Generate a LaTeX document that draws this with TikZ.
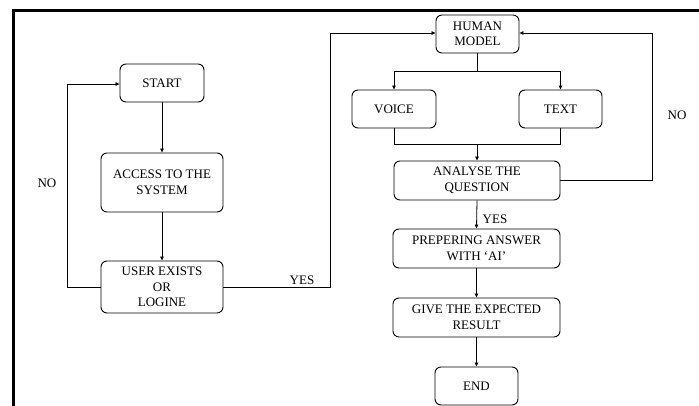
\documentclass[tikz,border=0pt]{standalone}
\usepackage{fontspec}
\setmainfont{Liberation Serif}
\usetikzlibrary{arrows.meta}
\begin{document}
\begin{tikzpicture}[x=1pt,y=-1pt,
  box/.style={draw,line width=0.9pt,rounded corners=6pt,align=center,inner sep=0pt,
    font=\fontsize{13}{15.5}\selectfont},
  conn/.style={line width=0.8pt},
  arr/.style={conn,-{Triangle[length=4pt,width=3.5pt]}},
  lbl/.style={font=\fontsize{13}{15.5}\selectfont,inner sep=0pt},
  frame/.style={line width=3pt}]
\useasboundingbox (0,0) rectangle (699,406);
\draw[frame] (13.5,406) -- (13.5,10.5) -- (699,10.5);
% left column
\node[box,minimum width=84pt,minimum height=38pt] (start) at (162,83) {START};
\node[box,minimum width=122pt,minimum height=59pt] (access) at (162,182.5) {ACCESS TO THE\\SYSTEM};
\node[box,minimum width=122pt,minimum height=52pt] (user) at (162,287) {USER EXISTS\\OR\\LOGINE};
% right column
\node[box,minimum width=83pt,minimum height=38pt] (human) at (477.5,34) {HUMAN\\MODEL};
\node[box,minimum width=84pt,minimum height=38pt] (voice) at (394,109) {VOICE};
\node[box,minimum width=83pt,minimum height=38pt] (text) at (560.5,109) {TEXT};
\node[box,minimum width=166pt,minimum height=39pt] (analyse) at (477,180.5) {ANALYSE THE\\QUESTION};
\node[box,minimum width=167pt,minimum height=39pt] (prep) at (476.5,248.5) {PREPERING ANSWER\\WITH ‘AI’};
\node[box,minimum width=167pt,minimum height=39pt] (give) at (476.5,317.5) {GIVE THE EXPECTED\\RESULT};
\node[box,minimum width=83pt,minimum height=38pt] (endn) at (476.5,386) {END};
% coordinates
\coordinate (nol) at (67,287);
\coordinate (nolt) at (67,84);
\coordinate (yesr) at (330,287);
\coordinate (yest) at (330,33);
\coordinate (split) at (477.5,71);
\coordinate (vsplit) at (394,71);
\coordinate (tsplit) at (560.5,71);
\coordinate (vjoin) at (394,144);
\coordinate (tjoin) at (560.5,144);
\coordinate (mjoin) at (477,144);
\coordinate (nor) at (652,180.5);
\coordinate (nort) at (652,33);
% connectors
\draw[arr] (start) -- (access);
\draw[arr] (access) -- (user);
\draw[arr] (user.west) -- (nol) -- (nolt) -- (start.west |- nolt);
\draw[arr] (user.east) -- (yesr) -- (yest) -- (human.west |- yest);
\draw[conn] (human.south) -- (split);
\draw[conn] (vsplit) -- (tsplit);
\draw[arr] (vsplit) -- (voice.north);
\draw[arr] (tsplit) -- (text.north);
\draw[conn] (voice.south) -- (vjoin) -- (tjoin) -- (text.south);
\draw[arr] (mjoin) -- (analyse.north);
\draw[arr] (analyse.east) -- (nor) -- (nort) -- (human.east |- nort);
\draw[arr] (analyse.south) -- (prep.north);
\draw[arr] (prep) -- (give);
\draw[arr] (give) -- (endn);
% labels
\node[lbl] (nolbl) at (47,183) {NO};
\node[lbl] (yeslbl) at (302,280) {YES};
\node[lbl] (nolbl2) at (677,115) {NO};
\node[lbl] (yeslbl2) at (495,219) {YES};
\end{tikzpicture}
\end{document}
